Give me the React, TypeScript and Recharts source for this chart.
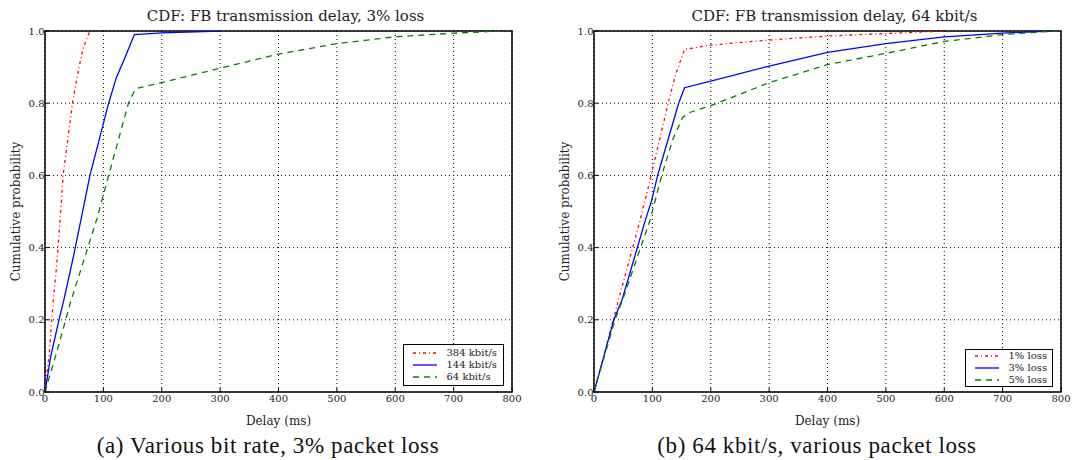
import { LineChart, Line, XAxis, YAxis, CartesianGrid, ReferenceArea } from "recharts";

// ticks
const xTicks = [0, 100, 200, 300, 400, 500, 600, 700, 800];
const yTicks = [0, 0.2, 0.4, 0.6, 0.8, 1.0];

// (a) various bit rate, 3% loss -- [delay ms, cumulative probability]
const rate384: [number, number][] = [
  [0, 0], [3, 0.05], [7, 0.1], [11.5, 0.2], [14, 0.25], [20, 0.35], [26, 0.48], [31, 0.6],
  [39, 0.7], [47, 0.8], [57, 0.89], [65, 0.95], [72, 0.98], [77, 1.0],
];
const rate144: [number, number][] = [
  [0, 0], [10, 0.1], [24, 0.2], [33, 0.26], [48, 0.37], [62, 0.48], [77, 0.6], [93, 0.7],
  [109, 0.8], [122, 0.87], [138, 0.93], [153, 0.99], [200, 0.995], [300, 1.0],
];
const rate64: [number, number][] = [
  [0, 0], [20, 0.11], [44, 0.25], [89, 0.48], [109, 0.6], [143, 0.8], [155, 0.84], [200, 0.857],
  [300, 0.897], [400, 0.936], [500, 0.965], [600, 0.984], [700, 0.994], [780, 1.0],
];

// (b) 64 kbit/s, various packet loss
const loss1: [number, number][] = [
  [0, 0], [17, 0.1], [33, 0.2], [42, 0.255], [79, 0.476], [98, 0.6], [127, 0.8], [140, 0.88],
  [155, 0.949], [200, 0.961], [300, 0.975], [400, 0.986], [500, 0.993], [600, 1.0],
];
const loss3: [number, number][] = [
  [0, 0], [17, 0.1], [34, 0.2], [48, 0.255], [88, 0.476], [99, 0.532], [109, 0.6], [127, 0.7],
  [145, 0.8], [155, 0.843], [200, 0.861], [300, 0.903], [400, 0.941], [500, 0.965], [600, 0.984],
  [700, 0.994], [780, 1.0],
];
const loss5: [number, number][] = [
  [0, 0], [18, 0.1], [36, 0.2], [49, 0.255], [96, 0.476], [116, 0.6], [135, 0.7], [152, 0.761],
  [165, 0.775], [200, 0.793], [300, 0.857], [400, 0.907], [500, 0.938], [600, 0.971], [700, 0.99],
  [790, 1.0],
];

const RED = "#ff0000";
const BLUE = "#0000ff";
const GREEN = "#008000";
const DASHDOT = "3 3 1 3";
const DASHED = "6 5";

interface Series {
  name: string;
  color: string;
  dash?: string;
  points: [number, number][];
}

const bitRateSeries: Series[] = [
  { name: "384 kbit/s", color: RED, dash: DASHDOT, points: rate384 },
  { name: "144 kbit/s", color: BLUE, points: rate144 },
  { name: "64 kbit/s", color: GREEN, dash: DASHED, points: rate64 },
];

const lossSeries: Series[] = [
  { name: "1% loss", color: RED, dash: DASHDOT, points: loss1 },
  { name: "3% loss", color: BLUE, points: loss3 },
  { name: "5% loss", color: GREEN, dash: DASHED, points: loss5 },
];

const font = "'DejaVu Serif', serif";
const tickStyle = { fill: "#222", fontSize: 10, fontFamily: font };
const axisLabelStyle = { fill: "#222", fontSize: 12, fontFamily: font };
const noLabel = () => <g />;

function CdfPanel({
  left,
  width,
  title,
  caption,
  series,
  legendWidth,
  legendTop,
  legendHeight,
}: {
  left: number;
  width: number;
  title: string;
  caption: string;
  series: Series[];
  legendWidth: number;
  legendTop: number;
  legendHeight: number;
}) {
  const yAxisW = 45;
  const plotW = 467;
  const rightM = width - yAxisW - plotW;
  const plotCenter = yAxisW + plotW / 2;
  return (
    <div style={{ position: "absolute", left, top: 0, width, height: 460 }}>
      <div
        style={{
          position: "absolute",
          top: 8,
          left: plotCenter + 7 - 200,
          width: 400,
          textAlign: "center",
          fontFamily: font,
          fontSize: 15,
          lineHeight: "17px",
          color: "#222",
        }}
      >
        {title}
      </div>
      <LineChart width={width} height={431} margin={{ top: 31, right: rightM, left: 0, bottom: 0 }}>
        <CartesianGrid stroke="#000" strokeDasharray="1 3" strokeWidth={1} />
        <XAxis
          type="number"
          dataKey="x"
          domain={[0, 800]}
          ticks={xTicks}
          allowDataOverflow
          height={39}
          tick={tickStyle}
          tickLine={{ stroke: "#000" }}
          axisLine={false}
          tickSize={-4}
          tickMargin={7}
          label={{ value: "Delay (ms)", position: "insideBottom", offset: 6, style: axisLabelStyle }}
        />
        <XAxis
          xAxisId="top"
          orientation="top"
          type="number"
          domain={[0, 800]}
          ticks={xTicks}
          allowDataOverflow
          height={0}
          tick={noLabel}
          tickLine={{ stroke: "#000" }}
          axisLine={false}
          tickSize={-4}
        />
        <YAxis
          type="number"
          domain={[0, 1]}
          ticks={yTicks}
          allowDataOverflow
          width={yAxisW}
          tick={tickStyle}
          tickLine={{ stroke: "#000" }}
          axisLine={false}
          tickSize={-4}
          tickMargin={4.5}
          tickFormatter={(v: number) => v.toFixed(1)}
          label={{
            value: "Cumulative probability",
            angle: -90,
            position: "insideLeft",
            offset: 16,
            style: { ...axisLabelStyle, textAnchor: "middle" },
          }}
        />
        <YAxis
          yAxisId="right"
          orientation="right"
          type="number"
          domain={[0, 1]}
          ticks={yTicks}
          allowDataOverflow
          width={0}
          tick={noLabel}
          tickLine={{ stroke: "#000" }}
          axisLine={false}
          tickSize={-4}
        />
        {series.map((s) => (
          <Line
            key={s.name}
            data={s.points.map(([x, y]) => ({ x, y }))}
            dataKey="y"
            type="linear"
            stroke={s.color}
            strokeWidth={1.3}
            strokeDasharray={s.dash}
            dot={false}
            isAnimationActive={false}
          />
        ))}
        <ReferenceArea x1={0} x2={800} y1={0} y2={1} fill="none" stroke="#000" strokeWidth={1.5} />
      </LineChart>
      <div
        style={{
          position: "absolute",
          left: yAxisW + plotW - 8.5 - legendWidth,
          top: legendTop,
          width: legendWidth,
          height: legendHeight,
          boxSizing: "border-box",
          border: "1px solid #000",
          background: "#fff",
          display: "flex",
          flexDirection: "column",
          justifyContent: "center",
          paddingLeft: 9,
        }}
      >
        {series.map((s) => (
          <div key={s.name} style={{ display: "flex", alignItems: "center", height: 11.6 }}>
            <svg width={24} height={6} style={{ marginRight: 10 }}>
              <line x1={0} y1={3} x2={24} y2={3} stroke={s.color} strokeWidth={1.3} strokeDasharray={s.dash} />
            </svg>
            <span style={{ fontFamily: font, fontSize: 10, lineHeight: "12px", color: "#222" }}>{s.name}</span>
          </div>
        ))}
      </div>
      <div
        style={{
          position: "absolute",
          top: 434,
          left: plotCenter - 10.5 - 260,
          width: 520,
          textAlign: "center",
          fontFamily: "'Liberation Serif', serif",
          fontSize: 23,
          letterSpacing: 0.6,
          lineHeight: "24px",
          color: "#111",
        }}
      >
        {caption}
      </div>
    </div>
  );
}

export default function App() {
  return (
    <div style={{ position: "absolute", left: 0, top: 0, width: 1077, height: 460, background: "#fff", overflow: "hidden" }}>
      <CdfPanel
        left={0}
        width={540}
        title="CDF: FB transmission delay, 3% loss"
        caption="(a) Various bit rate, 3% packet loss"
        series={bitRateSeries}
        legendWidth={101}
        legendTop={344}
        legendHeight={42}
      />
      <CdfPanel
        left={549}
        width={528}
        title="CDF: FB transmission delay, 64 kbit/s"
        caption="(b) 64 kbit/s, various packet loss"
        series={lossSeries}
        legendWidth={88}
        legendTop={349}
        legendHeight={38}
      />
    </div>
  );
}
